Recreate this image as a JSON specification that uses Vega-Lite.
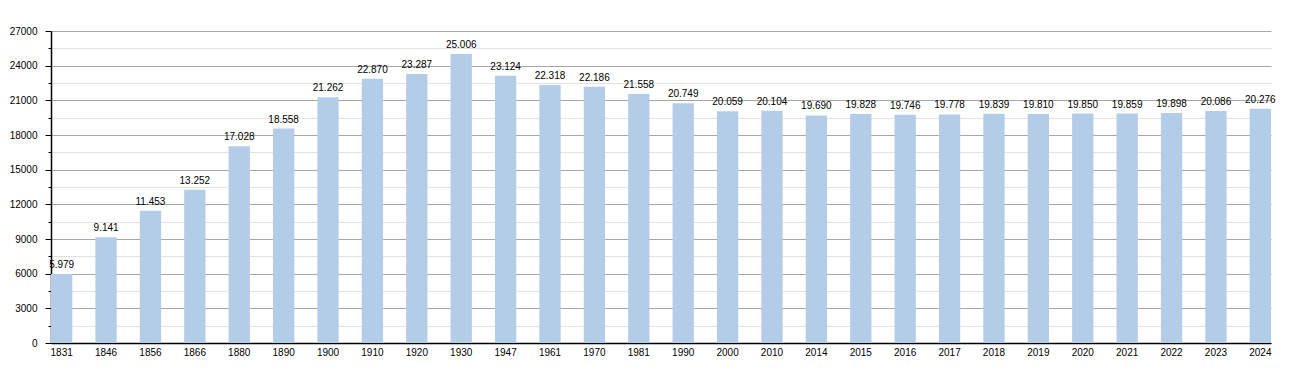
{
  "$schema": "https://vega.github.io/schema/vega-lite/v6.json",
  "autosize": "none",
  "width": 1220,
  "height": 312,
  "padding": {"left": 51, "top": 31, "right": 29, "bottom": 30},
  "background": "white",
  "data": {
    "values": [
      {"year": "1831", "pop": 5979},
      {"year": "1846", "pop": 9141},
      {"year": "1856", "pop": 11453},
      {"year": "1866", "pop": 13252},
      {"year": "1880", "pop": 17028},
      {"year": "1890", "pop": 18558},
      {"year": "1900", "pop": 21262},
      {"year": "1910", "pop": 22870},
      {"year": "1920", "pop": 23287},
      {"year": "1930", "pop": 25006},
      {"year": "1947", "pop": 23124},
      {"year": "1961", "pop": 22318},
      {"year": "1970", "pop": 22186},
      {"year": "1981", "pop": 21558},
      {"year": "1990", "pop": 20749},
      {"year": "2000", "pop": 20059},
      {"year": "2010", "pop": 20104},
      {"year": "2014", "pop": 19690},
      {"year": "2015", "pop": 19828},
      {"year": "2016", "pop": 19746},
      {"year": "2017", "pop": 19778},
      {"year": "2018", "pop": 19839},
      {"year": "2019", "pop": 19810},
      {"year": "2020", "pop": 19850},
      {"year": "2021", "pop": 19859},
      {"year": "2022", "pop": 19898},
      {"year": "2023", "pop": 20086},
      {"year": "2024", "pop": 20276}
    ]
  },
  "encoding": {
    "x": {
      "field": "year",
      "type": "ordinal",
      "sort": null,
      "scale": {"paddingInner": 0.52, "paddingOuter": 0},
      "axis": {
        "title": null,
        "labelAngle": 0,
        "ticks": false,
        "domainColor": "#000000",
        "domainWidth": 1.5,
        "labelPadding": 4,
        "labelFont": "Liberation Sans",
        "labelFontSize": 10,
        "labelColor": "#000000"
      }
    },
    "y": {
      "field": "pop",
      "type": "quantitative",
      "scale": {"domain": [0, 27000], "nice": false},
      "axis": {
        "title": null,
        "values": [0, 1500, 3000, 4500, 6000, 7500, 9000, 10500, 12000, 13500, 15000, 16500, 18000, 19500, 21000, 22500, 24000, 25500, 27000],
        "format": "d",
        "labelExpr": "datum.value % 3000 === 0 ? datum.label : ''",
        "grid": true,
        "gridColor": {"condition": {"test": "datum.value % 3000 === 0", "value": "#a6a6a6"}, "value": "#e2e2e2"},
        "tickSize": {"condition": {"test": "datum.value % 3000 === 0", "value": 6}, "value": 3},
        "tickColor": "#000000",
        "domainColor": "#000000",
        "domainWidth": 1.5,
        "labelPadding": 8,
        "labelFont": "Liberation Sans",
        "labelFontSize": 10,
        "labelColor": "#000000"
      }
    }
  },
  "layer": [
    {
      "mark": {"type": "bar", "color": "#b3cde8"}
    },
    {
      "mark": {"type": "text", "baseline": "bottom", "dy": -4, "font": "Liberation Sans", "fontSize": 10, "color": "#000000"},
      "encoding": {
        "text": {"field": "pop", "type": "quantitative", "format": ",d"}
      }
    }
  ],
  "config": {
    "view": {"stroke": null},
    "locale": {
      "number": {"decimal": ",", "thousands": ".", "grouping": [3], "currency": ["", " €"]}
    }
  }
}
